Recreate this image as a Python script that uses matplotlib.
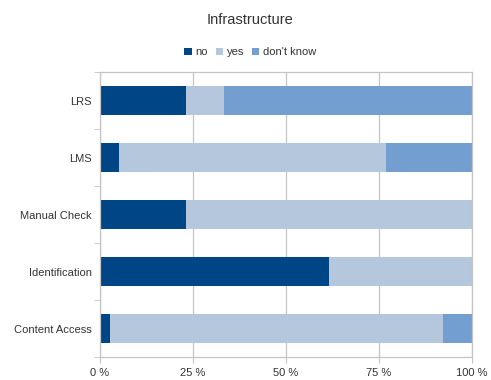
import numpy as np
import matplotlib
matplotlib.use("Agg")
import matplotlib.pyplot as plt
from matplotlib.ticker import FixedLocator

plt.rcParams['font.family'] = ['Liberation Sans', 'DejaVu Sans']

# share of answers per infrastructure item (percent)
categories = ['LRS', 'LMS', 'Manual Check', 'Identification', 'Content Access']
no = [23.1, 5.1, 23.1, 61.5, 2.6]
yes = [10.3, 71.8, 76.9, 38.5, 89.7]
dont_know = [66.7, 23.1, 0.0, 0.0, 7.7]
x_ticks = [0, 25, 50, 75, 100]
x_labels = ['0 %', '25 %', '50 %', '75 %', '100 %']

colors = {'no': '#004586', 'yes': '#b4c7dc', "don't know": '#729fcf'}

fig = plt.figure(figsize=(4.91, 3.80), dpi=100)
ax = fig.add_axes([0.2037, 0.0605, 0.757, 0.75])

y = np.arange(len(categories))
left = np.zeros(len(categories))
for name, vals in [('no', no), ('yes', yes), ("don't know", dont_know)]:
    vals = np.array(vals)
    ax.barh(y, vals, left=left, height=0.5, color=colors[name], label=name)
    left += vals

ax.set_xlim(0, 100)
ax.set_ylim(len(categories) - 0.5, -0.5)
ax.set_xticks(x_ticks)
ax.set_xticklabels(x_labels)
ax.set_yticks(y)
ax.set_yticklabels(categories)
ax.yaxis.set_minor_locator(FixedLocator(np.arange(len(categories) + 1) - 0.5))

ax.grid(axis='x', color='#c4c4c4', linewidth=0.9)
ax.set_axisbelow(True)
for s in ax.spines.values():
    s.set_color('#c4c4c4')
    s.set_linewidth(0.9)

ax.tick_params(axis='y', which='major', length=0, pad=6, labelsize=8, labelcolor='#333333')
ax.tick_params(axis='y', which='minor', length=4, color='#c4c4c4')
ax.tick_params(axis='x', length=4, color='#c4c4c4', pad=4, labelsize=8, labelcolor='#333333')

fig.text(0.51, 0.947, 'Infrastructure', ha='center', va='center', fontsize=10.5, color='#333333')
fig.legend(loc='center', bbox_to_anchor=(0.51, 0.862), ncol=3, frameon=False,
           fontsize=8, handlelength=0.65, handleheight=0.65, handletextpad=0.35,
           columnspacing=0.7, labelcolor='#333333')

fig.savefig('out.png', dpi=100)
